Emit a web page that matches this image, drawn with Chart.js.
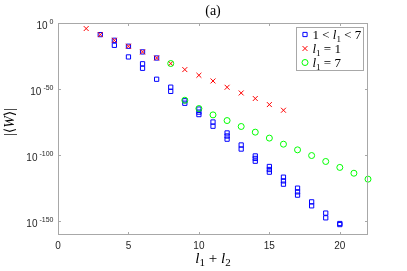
<!DOCTYPE html>
<html lang="en">
<head>
<meta charset="UTF-8">
<title>|&lt;W&gt;| against l1 + l2</title>
<script src="https://cdn.jsdelivr.net/npm/chart.js"></script>
<style>
  html, body { margin: 0; padding: 0; background: #fff; }
  #wrap { width: 407px; height: 271px; }
</style>
</head>
<body>
<div id="wrap"><canvas id="chart" width="407" height="271"></canvas></div>
<script>
// values are exponents: log10 |<W>|, plotted on a linear axis
const xTicks = [0, 5, 10, 15, 20];
const yTicks = [0, -50, -100, -150];
const yTickLabels = ['0', '-50', '-100', '-150'];

// 1 < l1 < 7
const midX = [3, 4, 4, 5, 5, 6, 6, 6, 7, 7, 8, 8, 9, 9, 10, 10, 10, 11, 11,
  12, 12, 12, 13, 13, 14, 14, 14, 15, 15, 15, 16, 16, 16, 17, 17, 17, 18, 18,
  19, 19, 20, 20];
const midY = [-8.8, -13.1, -16.9, -17.6, -25.7, -21.9, -30.9, -34.3, -26.5, -42.6,
  -48.6, -51.8, -58.9, -60.8, -65.2, -67.5, -69.4, -75.0, -78.2,
  -83.3, -85.6, -88.0, -92.4, -95.5, -100.7, -102.6, -104.7, -108.7, -111.0, -113.0,
  -116.8, -119.6, -122.1, -125.1, -127.9, -130.4, -135.5, -138.5,
  -144.0, -147.6, -151.9, -152.7];

// l1 = 1
const oneX = [2, 3, 4, 5, 6, 7, 8, 9, 10, 11, 12, 13, 14, 15, 16];
const oneY = [-4.2, -8.8, -13.1, -17.6, -21.9, -26.5, -30.7, -35.3, -39.6, -43.9,
  -48.7, -53.0, -57.2, -61.8, -66.1];

// l1 = 7
const sevenX = [8, 9, 10, 11, 12, 13, 14, 15, 16, 17, 18, 19, 20, 21, 22];
const sevenY = [-30.7, -58.5, -64.8, -69.6, -73.9, -78.4, -82.7, -87.2, -91.8, -96.1,
  -100.4, -104.9, -109.4, -113.8, -118.3];

const toPts = (xs, ys) => xs.map((x, i) => ({ x: x, y: ys[i] }));

const BLUE = '#0000ff', RED = '#ff0000', GREEN = '#00ff00';
const AXIS = '#a8a8a8', TXT = '#262626';
const SERIF = '"Liberation Serif", "DejaVu Serif", serif';
const SANS = '"Liberation Sans", Arial, sans-serif';

// draws a short math string: parts = [[text, 'r'|'i'|'s'], ...]
function mathText(ctx, parts, x, y, size, align) {
  const fontOf = (st) => st === 'i' ? 'italic ' + size + 'px ' + SERIF
    : st === 's' ? Math.round(size * 0.7) + 'px ' + SERIF
    : size + 'px ' + SERIF;
  let w = 0;
  parts.forEach(p => { ctx.font = fontOf(p[1]); w += ctx.measureText(p[0]).width; });
  let cx = align === 'center' ? x - w / 2 : x;
  ctx.textAlign = 'left';
  ctx.textBaseline = 'alphabetic';
  parts.forEach(p => {
    ctx.font = fontOf(p[1]);
    ctx.fillText(p[0], cx, p[1] === 's' ? y + size * 0.22 : y);
    cx += ctx.measureText(p[0]).width;
  });
}

const decor = {
  id: 'decor',
  afterDraw(chart) {
    const ctx = chart.ctx;
    const xs = chart.scales.x, ys = chart.scales.y;
    const a = chart.chartArea;
    ctx.save();

    // box and inward ticks
    ctx.strokeStyle = AXIS;
    ctx.lineWidth = 1;
    ctx.strokeRect(a.left + 0.5, a.top + 0.5, a.right - a.left - 1, a.bottom - a.top - 1);
    ctx.beginPath();
    xTicks.forEach(v => {
      const px = Math.round(xs.getPixelForValue(v)) + 0.5;
      ctx.moveTo(px, a.bottom); ctx.lineTo(px, a.bottom - 3);
      ctx.moveTo(px, a.top); ctx.lineTo(px, a.top + 3);
    });
    yTicks.forEach(v => {
      const py = Math.round(ys.getPixelForValue(v)) + 0.5;
      ctx.moveTo(a.left, py); ctx.lineTo(a.left + 3, py);
      ctx.moveTo(a.right, py); ctx.lineTo(a.right - 3, py);
    });
    ctx.stroke();

    // y tick labels 10^n
    ctx.fillStyle = TXT;
    ctx.textBaseline = 'alphabetic';
    yTicks.forEach((v, i) => {
      const py = ys.getPixelForValue(v);
      ctx.font = '7px ' + SANS;
      ctx.textAlign = 'right';
      ctx.fillText(yTickLabels[i], 53.5, py + 0.5);
      const ew = ctx.measureText(yTickLabels[i]).width;
      ctx.font = '10px ' + SANS;
      ctx.fillText('10', 53.5 - ew - 2, py + 5.5);
    });

    // title
    ctx.fillStyle = '#000';
    mathText(ctx, [['(a)', 'r']], (a.left + a.right) / 2, 15, 14, 'center');

    // x label
    mathText(ctx, [['l', 'i'], ['1', 's'], [' + ', 'r'], ['l', 'i'], ['2', 's']],
      (a.left + a.right) / 2, 263, 15, 'center');

    // y label
    ctx.save();
    ctx.translate(14, (a.top + a.bottom) / 2 - 7);
    ctx.rotate(-Math.PI / 2);
    mathText(ctx, [['|\u27E8', 'r'], ['W', 'i'], ['\u27E9|', 'r']], 0, 0, 14, 'center');
    ctx.restore();

    // legend
    const lx = 296, ly = 27, lw = 67, lh = 43;
    ctx.fillStyle = '#fff';
    ctx.fillRect(lx, ly, lw, lh);
    ctx.strokeStyle = AXIS;
    ctx.strokeRect(lx + 0.5, ly + 0.5, lw, lh);
    const rows = [
      [BLUE, 'rect', 3, [['1 < ', 'r'], ['l', 'i'], ['1', 's'], [' < 7', 'r']]],
      [RED, 'crossRot', 3.5, [['l', 'i'], ['1', 's'], [' = 1', 'r']]],
      [GREEN, 'circle', 3, [['l', 'i'], ['1', 's'], [' = 7', 'r']]]
    ];
    rows.forEach((r, i) => {
      const cy = 34.5 + i * 14;
      ctx.strokeStyle = r[0];
      ctx.fillStyle = 'rgba(0,0,0,0)';
      ctx.lineWidth = 1;
      Chart.helpers.drawPoint(ctx, { pointStyle: r[1], radius: r[2], rotation: 0, borderWidth: 1 }, 305, cy);
      ctx.fillStyle = '#000';
      mathText(ctx, r[3], 312.5, cy + 4.5, 13, 'left');
    });
    ctx.restore();
  }
};

new Chart(document.getElementById('chart'), {
  type: 'scatter',
  data: {
    datasets: [
      {
        label: '1 < l1 < 7',
        data: toPts(midX, midY),
        pointStyle: 'rect',
        pointRadius: 3,
        borderColor: BLUE,
        backgroundColor: 'rgba(0,0,0,0)',
        borderWidth: 1,
        order: 3,
        clip: false
      },
      {
        label: 'l1 = 1',
        data: toPts(oneX, oneY),
        pointStyle: 'crossRot',
        pointRadius: 3.5,
        borderColor: RED,
        backgroundColor: RED,
        borderWidth: 1,
        order: 2,
        clip: false
      },
      {
        label: 'l1 = 7',
        data: toPts(sevenX, sevenY),
        pointStyle: 'circle',
        pointRadius: 3,
        borderColor: GREEN,
        backgroundColor: 'rgba(0,0,0,0)',
        borderWidth: 1,
        order: 1,
        clip: false
      }
    ]
  },
  options: {
    responsive: false,
    animation: false,
    devicePixelRatio: 1,
    layout: { padding: { top: 23, right: 39, left: 0, bottom: 0 } },
    plugins: {
      legend: { display: false },
      tooltip: { enabled: false },
      title: { display: false }
    },
    scales: {
      x: {
        type: 'linear',
        min: 0,
        max: 22,
        afterFit: (s) => { s.height = 36; },
        afterBuildTicks: (s) => { s.ticks = xTicks.map(v => ({ value: v })); },
        grid: { display: false, drawTicks: false },
        border: { display: false },
        ticks: { color: TXT, font: { family: SANS, size: 10 }, padding: 5 }
      },
      y: {
        type: 'linear',
        min: -160.6,
        max: 0,
        afterFit: (s) => { s.width = 58; },
        afterBuildTicks: (s) => { s.ticks = yTicks.map(v => ({ value: v })); },
        grid: { display: false, drawTicks: false },
        border: { display: false },
        ticks: { display: false }
      }
    }
  },
  plugins: [decor]
});
</script>
</body>
</html>
